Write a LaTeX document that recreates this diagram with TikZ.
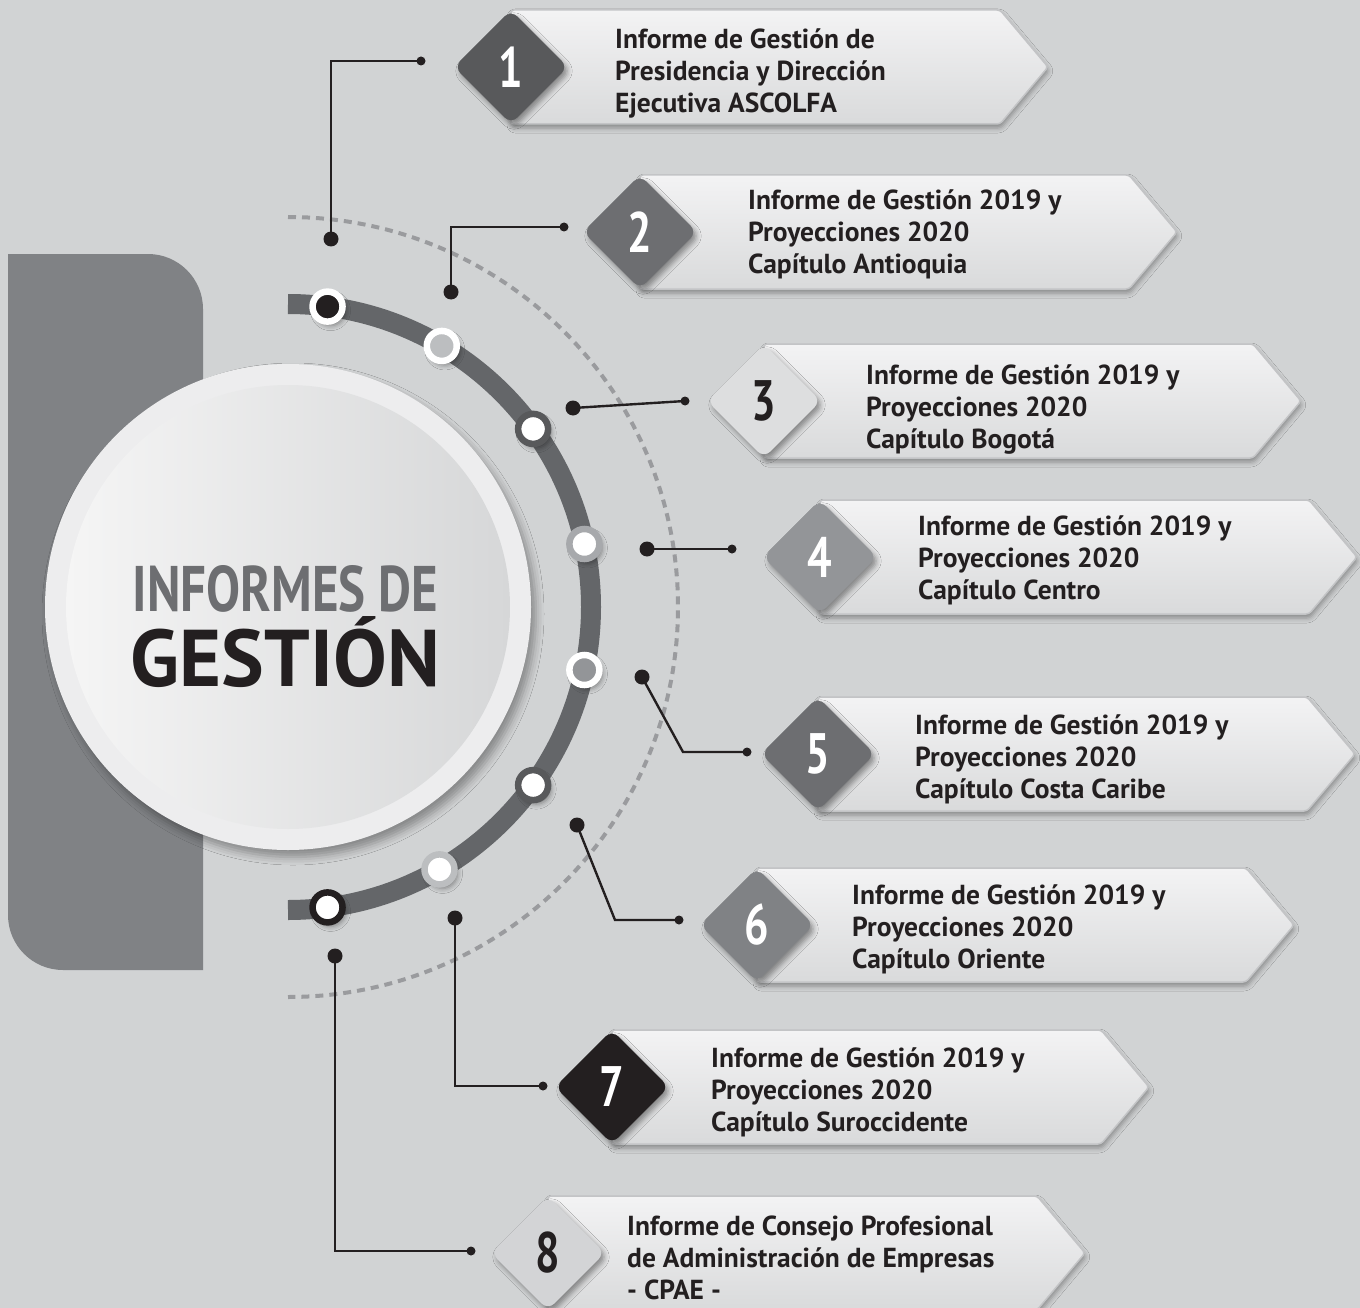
\documentclass[tikz,border=0pt]{standalone}
\usepackage{fontspec}
\setmainfont{PT Sans}
\newfontfamily\condfont{PT Sans}[FakeStretch=0.76]
\usepackage{graphicx}
\usetikzlibrary{shapes.geometric,shadows.blur,calc}
\definecolor{bg}{HTML}{D1D3D4}
\definecolor{boxgrey}{HTML}{808285}
\definecolor{bandgrey}{HTML}{646669}
\definecolor{dashgrey}{HTML}{9A9B9E}
\definecolor{ink}{HTML}{231F20}
\definecolor{ringc}{HTML}{EDEDEE}
\definecolor{discl}{HTML}{F5F5F5}
\definecolor{discr}{HTML}{D6D7D8}
\definecolor{midgrey}{HTML}{6D6E71}
\definecolor{lgrey}{HTML}{BCBEC0}
\definecolor{l2grey}{HTML}{A7A9AC}
\definecolor{m2grey}{HTML}{939598}
\definecolor{d1grey}{HTML}{58595B}
\definecolor{d6grey}{HTML}{808285}
\definecolor{d3grey}{HTML}{DDDEDF}
\definecolor{d8grey}{HTML}{D3D4D6}
\definecolor{bantop}{HTML}{F3F3F4}
\definecolor{banbot}{HTML}{D9DADB}
\definecolor{banline}{HTML}{C3C4C6}
\tikzset{
  softshadow/.style={blur shadow={shadow xshift=3pt, shadow yshift=-4pt, shadow blur radius=5pt, shadow opacity=40}},
  arcnode/.style={circle, minimum size=30pt, line width=6.5pt, inner sep=0pt, softshadow},
  bigdot/.style={circle, fill=ink, minimum size=15pt, inner sep=0pt},
  smalldot/.style={circle, fill=ink, minimum size=9pt, inner sep=0pt},
  conn/.style={draw=ink, line width=2.4pt},
  dia/.style={diamond, minimum width=114pt, minimum height=114pt, inner sep=0pt, rounded corners=9pt, softshadow},
  numtxt/.style={font=\condfont\bfseries\fontsize{57}{57}\selectfont},
  lbl/.style={anchor=west, align=left, inner sep=0pt, text=ink, font=\bfseries\fontsize{27.5}{32}\selectfont},
  bannershape/.pic={
    \path[top color=bantop, bottom color=banbot, draw=banline, line width=1.5pt, rounded corners=3pt,
      blur shadow={shadow xshift=1pt, shadow yshift=-4pt, shadow blur radius=5pt, shadow opacity=35}]
      (0,-57) -- (489,-57) -- (537,0) -- (489,57) -- (0,57) -- cycle;
  }
}
\begin{document}
\begin{tikzpicture}[x=1pt,y=-1pt]
\useasboundingbox (0,0) rectangle (1360,1308);
\fill[bg] (0,0) rectangle (1360,1308);
% dark panel
\fill[boxgrey] (8,254) -- (148,254) .. controls (178.4,254) and (203,278.6) .. (203,309)
  -- (203,970) -- (63,970) .. controls (32.6,970) and (8,945.4) .. (8,915) -- cycle;
\coordinate (C) at (288,607);
% dashed circle
\draw[dashgrey, line width=4pt, dash pattern=on 8pt off 6pt] (288,217) arc[start angle=-90, end angle=90, radius=390];
% central circle
\node[circle, minimum size=486pt, fill=ringc, inner sep=0pt,
  blur shadow={shadow xshift=5pt, shadow yshift=-7pt, shadow blur radius=8pt, shadow opacity=35}] (ring) at (C) {};
\node[circle, minimum size=444pt, inner sep=0pt, left color=discl, right color=discr] (disc) at (C) {};
\node[anchor=base, text=midgrey] (t1) at (285.5,611) {\resizebox{305pt}{46pt}{\condfont\bfseries INFORMES DE}};
\node[anchor=base, text=ink] (t2) at (285.5,686) {\resizebox{309pt}{!}{\bfseries GESTIÓN}};
% band
\draw[bandgrey, line width=20pt] (288,304) arc[start angle=-90, end angle=90, radius=303];
% arc nodes
\node[arcnode, draw=white, fill=ink] (n1) at ($(C)+(-82.5:303)$) {};
\node[arcnode, draw=white, fill=lgrey] (n2) at ($(C)+(-59.5:303)$) {};
\node[arcnode, draw=d1grey, fill=white] (n3) at ($(C)+(-36:303)$) {};
\node[arcnode, draw=l2grey, fill=white] (n4) at ($(C)+(-12:303)$) {};
\node[arcnode, draw=white, fill=m2grey] (n5) at ($(C)+(12:303)$) {};
\node[arcnode, draw=d1grey, fill=white] (n6) at ($(C)+(36:303)$) {};
\node[arcnode, draw=lgrey, fill=white] (n7) at ($(C)+(60:303)$) {};
\node[arcnode, draw=ink, fill=white] (n8) at ($(C)+(82.5:303)$) {};
% connectors
\node[bigdot] (b1) at (331,239) {}; \node[smalldot] (s1) at (421,61) {};
\node[bigdot] (b2) at (451,292) {}; \node[smalldot] (s2) at (564,227) {};
\node[bigdot] (b3) at (573,408) {}; \node[smalldot] (s3) at (685,401) {};
\node[bigdot] (b4) at (647,549) {}; \node[smalldot] (s4) at (732,549) {};
\node[bigdot] (b5) at (642,677) {}; \node[smalldot] (s5) at (747,752) {};
\node[bigdot] (b6) at (577,825) {}; \node[smalldot] (s6) at (679,920) {};
\node[bigdot] (b7) at (455,918) {}; \node[smalldot] (s7) at (543,1086) {};
\node[bigdot] (b8) at (335,956) {}; \node[smalldot] (s8) at (471,1251) {};
\coordinate (k5) at (683,752);
\coordinate (k6) at (615,920);
\draw[conn] (b1.center) |- (s1.center);
\draw[conn] (b2.center) |- (s2.center);
\draw[conn] (b3.center) -- (s3.center);
\draw[conn] (b4.center) -- (s4.center);
\draw[conn] (b5.center) -- (k5) -- (s5.center);
\draw[conn] (b6.center) -- (k6) -- (s6.center);
\draw[conn] (b7.center) |- (s7.center);
\draw[conn] (b8.center) |- (s8.center);
% banners
\pic at (511,67) {bannershape};
\node[dia, fill=d1grey] (d1) at (511,67) {};
\node[numtxt, text=white] (m1) at (d1) {1};
\node[lbl] (l1) at (615,73) {Informe de Gestión de\\Presidencia y Dirección\\Ejecutiva ASCOLFA};

\pic at (640,232) {bannershape};
\node[dia, fill=midgrey] (d2) at (640,232) {};
\node[numtxt, text=white] (m2) at (d2) {2};
\node[lbl] (l2) at (748,234) {Informe de Gestión 2019 y\\Proyecciones 2020\\Capítulo Antioquia};

\pic at (764,401) {bannershape};
\node[dia, fill=d3grey] (d3) at (764,401) {};
\node[numtxt, text=ink] (m3) at (d3) {3};
\node[lbl] (l3) at (866,410) {Informe de Gestión 2019 y\\Proyecciones 2020\\Capítulo Bogotá};

\pic at (820,557) {bannershape};
\node[dia, fill=m2grey] (d4) at (820,557) {};
\node[numtxt, text=white] (m4) at (d4) {4};
\node[lbl] (l4) at (918,560) {Informe de Gestión 2019 y\\Proyecciones 2020\\Capítulo Centro};

\pic at (818,754) {bannershape};
\node[dia, fill=midgrey] (d5) at (818,754) {};
\node[numtxt, text=white] (m5) at (d5) {5};
\node[lbl] (l5) at (915,759) {Informe de Gestión 2019 y\\Proyecciones 2020\\Capítulo Costa Caribe};

\pic at (757,925) {bannershape};
\node[dia, fill=d6grey] (d6) at (757,925) {};
\node[numtxt, text=white] (m6) at (d6) {6};
\node[lbl] (l6) at (852,929) {Informe de Gestión 2019 y\\Proyecciones 2020\\Capítulo Oriente};

\pic at (612,1087) {bannershape};
\node[dia, fill=ink] (d7) at (612,1087) {};
\node[numtxt, text=white] (m7) at (d7) {7};
\node[lbl] (l7) at (711,1092) {Informe de Gestión 2019 y\\Proyecciones 2020\\Capítulo Suroccidente};

\pic at (548,1253) {bannershape};
\node[dia, fill=d8grey] (d8) at (548,1253) {};
\node[numtxt, text=ink] (m8) at (d8) {8};
\node[lbl] (l8) at (627,1258) {Informe de Consejo Profesional\\de Administración de Empresas\\- CPAE -};
\end{tikzpicture}
\end{document}
